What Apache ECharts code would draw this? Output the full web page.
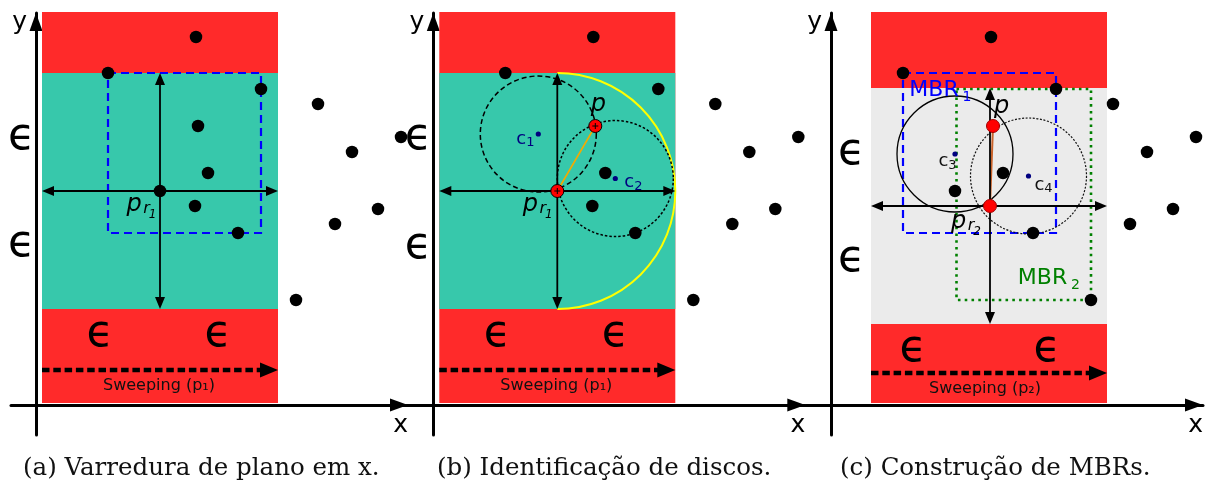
<!DOCTYPE html>
<html>
<head>
<meta charset="utf-8">
<script src="https://cdn.jsdelivr.net/npm/echarts@6/dist/echarts.min.js"></script>
<style>
html, body { margin: 0; padding: 0; background: #ffffff; }
#chart { width: 1213px; height: 484px; }
</style>
</head>
<body>
<div id="chart"></div>
<script>
// ---- data (units relative to each panel's axis origin) ----
const captions = ['(a) Varredura de plano em x.', '(b) Identificação de discos.', '(c) Construção de MBRs.'];

// the same point set appears in all three panels
const pointX = [16.0, 7.2, 22.5, 28.2, 16.2, 36.5, 31.6, 17.2, 12.4, 15.9, 34.2, 29.9, 20.2, 26.0];
const pointY = [36.8, 33.2, 31.6, 30.1, 27.9, 26.8, 25.3, 23.2, 21.4, 19.9, 19.6, 18.1, 17.2, 10.5];

// sweep strip (x range) and ε band around the reference point (y range)
const sweepX = [[0.6, 24.2], [0.6, 24.2], [4.0, 27.6]];
const sweepY = [0.2, 39.3];
const epsBandY = [[9.6, 33.2], [9.6, 33.2], [8.1, 31.7]];
const pivotIdx = [8, 8, 9];      // p_r1, p_r1, p_r2
const partnerIdx = [-1, 4, 4];   // p
const epsRadius = 11.8;

// sweep direction arrow and its caption
const sweepArrowY = [3.5, 3.5, 3.2];
const sweepTextX = [12.3, 12.3, 15.4];
const sweepTextY = [1.9, 1.9, 1.65];
const sweepSub = ['1', '1', '2'];

// ϵ markers
const epsLabelX = [[-1.45, -1.45, 6.4, 18.2], [-1.5, -1.5, 6.4, 18.2], [2.05, 2.05, 8.2, 21.6]];
const epsLabelY = [[26.7, 16.0, 7.0, 7.0], [26.7, 15.8, 7.0, 7.0], [25.2, 14.5, 5.5, 5.5]];

// minimum bounding rectangles [xmin, ymin, xmax, ymax]
const mbr1 = [7.2, 17.2, 22.5, 33.2];
const mbr2 = [12.55, 10.5, 26.0, 31.6];
const mbr1Panels = [0, 2];

// candidate discs
const discPanel = [1, 1, 2, 2];
const discX = [10.5, 18.2, 12.4, 19.75];
const discY = [27.1, 22.65, 25.1, 22.9];
const discR = 5.8;
const discSub = ['1', '2', '3', '4'];
const discLabelX = [8.8, 19.6, 11.25, 20.85];
const discLabelY = [26.6, 22.25, 24.35, 22.0];

// point annotations: panel, x, y, subscript, sub-subscript
const noteP = [0, 1, 1, 2, 2];
const noteX = [9.8, 9.7, 16.5, 12.75, 17.05];
const noteY = [20.0, 20.0, 30.0, 18.3, 29.85];
const noteSub = ['r', 'r', '', 'r', ''];
const noteSub2 = ['1', '1', '', '2', ''];

// ---- styling ----
const RED = '#ff2a2a', TEAL = '#37c8ab', GREY = '#ebebeb';
const FONT = 'DejaVu Sans';
const originX = [36, 433.3, 831];

const chart = echarts.init(document.getElementById('chart'));

function on(i) { return { xAxisIndex: i, yAxisIndex: i }; }

// line with optional filled heads, all in pixel space
function arrow(a, b, o) {
  const dx = b[0] - a[0], dy = b[1] - a[1];
  const L = Math.hypot(dx, dy), ux = dx / L, uy = dy / L, nx = -uy, ny = ux;
  let s = a, e = b;
  const out = [];
  const head = (tip, sx, sy) => ({
    type: 'polygon',
    shape: { points: [tip, [tip[0] - sx * o.len + nx * o.half, tip[1] - sy * o.len + ny * o.half], [tip[0] - sx * o.len - nx * o.half, tip[1] - sy * o.len - ny * o.half]] },
    style: { fill: o.color }
  });
  if (o.start) s = [a[0] + ux * o.len * 0.8, a[1] + uy * o.len * 0.8];
  if (o.end) e = [b[0] - ux * o.len * 0.8, b[1] - uy * o.len * 0.8];
  out.push({ type: 'line', shape: { x1: s[0], y1: s[1], x2: e[0], y2: e[1] },
    style: { stroke: o.color, lineWidth: o.width, lineDash: o.dash || null, fill: null } });
  if (o.start) out.push(head(a, -ux, -uy));
  if (o.end) out.push(head(b, ux, uy));
  return out;
}

const grids = [], xAxes = [], yAxes = [], series = [];
for (let i = 0; i < 3; i++) {
  grids.push({ left: originX[i] - 25, top: 13, width: 397, height: 422 });
  const axisLine = { onZero: true, symbol: ['none', 'triangle'], symbolSize: [13, 18], symbolOffset: [0, -9],
    lineStyle: { color: '#000', width: 3 } };
  xAxes.push({ type: 'value', gridIndex: i, min: -2.5, max: 37.2, axisLine: axisLine,
    axisTick: { show: false }, axisLabel: { show: false }, splitLine: { show: false },
    name: 'x', nameLocation: 'end', nameGap: 0,
    nameTextStyle: { fontFamily: FONT, fontSize: 25, color: '#000', align: 'right', verticalAlign: 'top', padding: [8, 0, 0, 0] } });
  yAxes.push({ type: 'value', gridIndex: i, min: -3.0, max: 39.2, axisLine: axisLine,
    axisTick: { show: false }, axisLabel: { show: false }, splitLine: { show: false },
    name: 'y', nameLocation: 'end', nameGap: -9,
    nameTextStyle: { fontFamily: FONT, fontSize: 25, color: '#000', align: 'right', verticalAlign: 'middle', padding: [0, 9, 4, 0] } });

  // sweep strip and ε band
  series.push({
    type: 'custom', ...on(i), silent: true, z: 1,
    data: [[sweepX[i][0], sweepY[0], sweepX[i][1], sweepY[1], 0],
           [sweepX[i][0], epsBandY[i][0], sweepX[i][1], epsBandY[i][1], 1]],
    renderItem: (params, api) => {
      const p0 = api.coord([api.value(0), api.value(1)]);
      const p1 = api.coord([api.value(2), api.value(3)]);
      return { type: 'rect', shape: { x: p0[0], y: p1[1], width: p1[0] - p0[0], height: p0[1] - p1[1] },
        style: { fill: api.value(4) ? (i === 2 ? GREY : TEAL) : RED } };
    }
  });
}

// MBR1 (blue dashed), panels a and c
mbr1Panels.forEach(i => {
  series.push({
    type: 'custom', ...on(i), silent: true, z: 2, data: [mbr1],
    renderItem: (params, api) => {
      const p0 = api.coord([api.value(0), api.value(1)]);
      const p1 = api.coord([api.value(2), api.value(3)]);
      return { type: 'rect', shape: { x: p0[0], y: p1[1], width: p1[0] - p0[0], height: p0[1] - p1[1] },
        style: { fill: null, stroke: '#0000ff', lineWidth: 2.2, lineDash: [8, 5] } };
    }
  });
});
// MBR2 (green dotted), panel c
series.push({
  type: 'custom', ...on(2), silent: true, z: 2, data: [mbr2],
  renderItem: (params, api) => {
    const p0 = api.coord([api.value(0), api.value(1)]);
    const p1 = api.coord([api.value(2), api.value(3)]);
    return { type: 'rect', shape: { x: p0[0], y: p1[1], width: p1[0] - p0[0], height: p0[1] - p1[1] },
      style: { fill: null, stroke: '#008000', lineWidth: 2.6, lineDash: [2.6, 4.2] } };
  }
});

// ε half-circle around p_r1 (panel b)
series.push({
  type: 'custom', ...on(1), silent: true, z: 3,
  data: [[pointX[pivotIdx[1]], pointY[pivotIdx[1]], epsRadius]],
  renderItem: (params, api) => {
    const c = api.coord([api.value(0), api.value(1)]);
    const r = api.size([api.value(2), 0])[0];
    return { type: 'arc', shape: { cx: c[0], cy: c[1], r: r, startAngle: -Math.PI / 2, endAngle: Math.PI / 2, clockwise: true },
      style: { stroke: '#ffff00', lineWidth: 2, fill: null } };
  }
});

// candidate discs
const discStyles = [
  { stroke: '#000', lineWidth: 1.5, lineDash: [5, 3] },
  { stroke: '#000', lineWidth: 1.5, lineDash: [2.5, 2] },
  { stroke: '#000', lineWidth: 1.3, lineDash: null },
  { stroke: '#111', lineWidth: 1.2, lineDash: [2, 1.6] }
];
discX.forEach((dx, k) => {
  const i = discPanel[k];
  series.push({
    type: 'custom', ...on(i), silent: true, z: 3,
    data: [[dx, discY[k], discR]],
    renderItem: (params, api) => {
      const c = api.coord([api.value(0), api.value(1)]);
      const r = api.size([api.value(2), 0])[0];
      const l = api.coord([discLabelX[k], discLabelY[k]]);
      const col = k < 2 ? '#000080' : '#111';
      return { type: 'group', children: [
        { type: 'circle', shape: { cx: c[0], cy: c[1], r: r }, style: Object.assign({ fill: null }, discStyles[k]) },
        { type: 'circle', shape: { cx: c[0], cy: c[1], r: 2.6 }, style: { fill: '#000080' } },
        { type: 'text', x: l[0], y: l[1], style: { text: 'c', fontFamily: FONT, fontSize: 18, fill: col, align: 'center', verticalAlign: 'middle' } },
        { type: 'text', x: l[0] + 9, y: l[1] + 4, style: { text: discSub[k], fontFamily: FONT, fontSize: 13, fill: col, align: 'center', verticalAlign: 'middle' } }
      ] };
    }
  });
});

// chord between p_r and p
[[1, '#f5aa00', 1.6], [2, '#c8622a', 2]].forEach(([i, col, w]) => {
  series.push({
    type: 'custom', ...on(i), silent: true, z: 4,
    data: [[pointX[pivotIdx[i]], pointY[pivotIdx[i]], pointX[partnerIdx[i]], pointY[partnerIdx[i]]]],
    renderItem: (params, api) => {
      const a = api.coord([api.value(0), api.value(1)]), b = api.coord([api.value(2), api.value(3)]);
      return { type: 'line', shape: { x1: a[0], y1: a[1], x2: b[0], y2: b[1] }, style: { stroke: col, lineWidth: w } };
    }
  });
});

for (let i = 0; i < 3; i++) {
  const px = pointX[pivotIdx[i]], py = pointY[pivotIdx[i]];
  // crosshair through the reference point, spanning the strip and the ε band
  series.push({
    type: 'custom', ...on(i), silent: true, z: 5,
    data: [[sweepX[i][0], py, sweepX[i][1], py], [px, epsBandY[i][1], px, epsBandY[i][0]]],
    renderItem: (params, api) => {
      const a = api.coord([api.value(0), api.value(1)]), b = api.coord([api.value(2), api.value(3)]);
      return { type: 'group', children: arrow(a, b, { start: true, end: true, len: 12, half: 5, color: '#000', width: 1.8 }) };
    }
  });
  // sweep direction
  series.push({
    type: 'custom', ...on(i), silent: true, z: 5,
    data: [[sweepX[i][0], sweepArrowY[i], sweepX[i][1], sweepArrowY[i]]],
    renderItem: (params, api) => {
      const a = api.coord([api.value(0), api.value(1)]), b = api.coord([api.value(2), api.value(3)]);
      const t = api.coord([sweepTextX[i], sweepTextY[i]]);
      return { type: 'group', children: arrow(a, b, { start: false, end: true, len: 18, half: 7.5, color: '#000', width: 4.6, dash: [7.5, 3.8] }).concat([
        { type: 'text', x: t[0], y: t[1],
          style: { text: 'Sweeping (p' + ['\u2081', '\u2082'][+sweepSub[i] - 1] + ')', fontFamily: FONT, fontSize: 16, fill: '#111', align: 'center', verticalAlign: 'middle' } }
      ]) };
    }
  });
  // ϵ markers
  series.push({
    type: 'custom', ...on(i), silent: true, z: 6,
    data: epsLabelX[i].map((x, k) => [x, epsLabelY[i][k]]),
    renderItem: (params, api) => {
      const c = api.coord([api.value(0), api.value(1)]);
      return { type: 'text', x: c[0], y: c[1], style: { text: '\u03f5', fontFamily: FONT, fontSize: 44, fill: '#000', align: 'center', verticalAlign: 'middle' } };
    }
  });
  // points
  series.push({
    type: 'scatter', ...on(i), silent: true, clip: false, z: 7,
    symbolSize: 12.5,
    itemStyle: { color: '#000', opacity: 1 },
    data: pointX.map((x, k) => {
      const hi = i > 0 && (k === pivotIdx[i] || k === partnerIdx[i]);
      return hi ? { value: [x, pointY[k]], symbolSize: 13,
        itemStyle: { color: '#ff0000', borderColor: i === 1 ? '#000' : '#a00000', borderWidth: 1 } }
        : [x, pointY[k]];
    })
  });
}

// small crosses inside the highlighted points of panel b
series.push({
  type: 'custom', ...on(1), silent: true, z: 8,
  data: [[pointX[pivotIdx[1]], pointY[pivotIdx[1]]], [pointX[partnerIdx[1]], pointY[partnerIdx[1]]]],
  renderItem: (params, api) => {
    const c = api.coord([api.value(0), api.value(1)]);
    return { type: 'group', children: [
      { type: 'line', shape: { x1: c[0] - 3, y1: c[1], x2: c[0] + 3, y2: c[1] }, style: { stroke: '#000', lineWidth: 1 } },
      { type: 'line', shape: { x1: c[0], y1: c[1] - 3, x2: c[0], y2: c[1] + 3 }, style: { stroke: '#000', lineWidth: 1 } }
    ] };
  }
});

// point annotations p, p_r1, p_r2
noteX.forEach((nx, k) => {
  series.push({
    type: 'custom', ...on(noteP[k]), silent: true, z: 9,
    data: [[nx, noteY[k]]],
    renderItem: (params, api) => {
      const c = api.coord([api.value(0), api.value(1)]);
      const kids = [{ type: 'text', x: c[0], y: c[1], style: { text: 'p', fontFamily: FONT, fontStyle: 'italic', fontSize: 24, fill: '#000', align: 'center', verticalAlign: 'middle' } }];
      if (noteSub[k]) {
        kids.push({ type: 'text', x: c[0] + 12.5, y: c[1] + 4, style: { text: noteSub[k], fontFamily: FONT, fontStyle: 'italic', fontSize: 16, fill: '#000', align: 'center', verticalAlign: 'middle' } });
        kids.push({ type: 'text', x: c[0] + 18.5, y: c[1] + 10, style: { text: noteSub2[k], fontFamily: FONT, fontStyle: 'italic', fontSize: 12, fill: '#000', align: 'center', verticalAlign: 'middle' } });
      }
      return { type: 'group', children: kids };
    }
  });
});

// MBR labels
[[mbr1, '#0000ff', '1', 10.3, 31.45], [mbr2, '#008000', '2', 21.15, 12.7]].forEach(([r, col, sub, lx, ly]) => {
  series.push({
    type: 'custom', ...on(2), silent: true, z: 9,
    data: [[lx, ly]],
    renderItem: (params, api) => {
      const c = api.coord([api.value(0), api.value(1)]);
      return { type: 'group', children: [
        { type: 'text', x: c[0], y: c[1], style: { text: 'MBR', fontFamily: FONT, fontSize: 22, fill: col, align: 'center', verticalAlign: 'middle' } },
        { type: 'text', x: c[0] + 33, y: c[1] + 7, style: { text: sub, fontFamily: FONT, fontSize: 14, fill: col, align: 'center', verticalAlign: 'middle' } }
      ] };
    }
  });
});

chart.setOption({
  animation: false,
  backgroundColor: '#ffffff',
  title: captions.map((t, i) => ({
    text: t, left: [18, 432, 835][i], top: 451,
    textStyle: { fontFamily: 'DejaVu Serif', fontSize: 24.5, fontWeight: 'normal', color: '#111' }
  })),
  grid: grids,
  xAxis: xAxes,
  yAxis: yAxes,
  series: series
});
</script>
</body>
</html>
